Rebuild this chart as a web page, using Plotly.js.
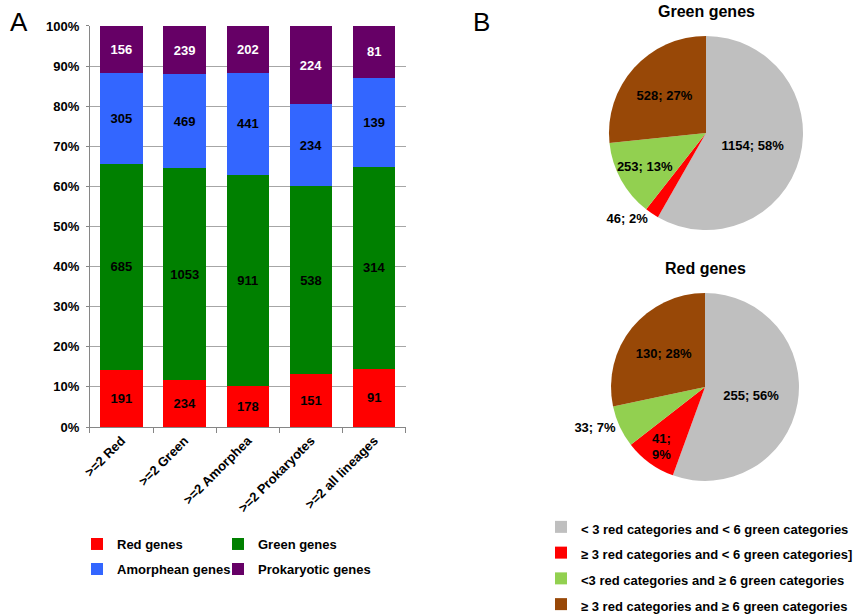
<!DOCTYPE html>
<html><head><meta charset="utf-8">
<script src="https://cdn.plot.ly/plotly-3.0.1.min.js"></script>
<style>html,body{margin:0;padding:0;background:#fff}#c{width:856px;height:616px}</style>
</head><body><div id="c"></div>
<script>
// Panel A data
const categories = ['>=2 Red', '>=2 Green', '>=2 Amorphea', '>=2 Prokaryotes', '>=2 all lineages'];
const redGenes = [191, 234, 178, 151, 91];
const greenGenes = [685, 1053, 911, 538, 314];
const amorpheanGenes = [305, 469, 441, 234, 139];
const prokaryoticGenes = [156, 239, 202, 224, 81];
const barSeriesNames = ['Red genes', 'Green genes', 'Amorphean genes', 'Prokaryotic genes'];

// Panel B data
const pieLabels = ['< 3 red categories and < 6 green categories',
  '\u2265 3 red categories and < 6 green categories]',
  '<3 red categories and \u2265 6 green categories',
  '\u2265 3 red categories and \u2265 6 green categories'];
const greenPieValues = [1154, 46, 253, 528];
const redPieValues = [255, 41, 33, 130];

const FONT = 'Liberation Sans, Arial, sans-serif';
const barColors = ['#FF0000', '#008000', '#3366FF', '#660066'];
const barText = ['#000', '#000', '#000', '#fff'];
const barLegends = ['legend', 'legend3', 'legend4', 'legend5'];
const pieColors = ['#BFBFBF', '#FF0000', '#92D050', '#984807'];

const barData = [redGenes, greenGenes, amorpheanGenes, prokaryoticGenes].map((vals, i) => ({
  type: 'bar', x: categories, y: vals, name: barSeriesNames[i],
  marker: {color: barColors[i], line: {width: 0}},
  text: vals.map(String), textposition: 'inside', insidetextanchor: 'middle', textangle: 0,
  textfont: {family: FONT, size: 13, weight: 'bold', color: barText[i]},
  constraintext: 'none', showlegend: true,
  legend: barLegends[i], hoverinfo: 'skip'
}));

const escapeLt = s => s.replace(/</g, '&lt;');
const styledPieLabels = pieLabels.map(l => '<span style="font-size:13px">' + escapeLt(l) + '</span>');

const tt = '%{value}; %{percent:.0%}';
const pieCommon = {
  type: 'pie', labels: styledPieLabels, sort: false, direction: 'clockwise', rotation: 0,
  marker: {colors: pieColors, line: {width: 0}},
  textinfo: 'text', insidetextorientation: 'horizontal',
  textfont: {family: FONT, size: 13, weight: 'bold', color: '#000'},
  outsidetextfont: {family: FONT, size: 13, weight: 'bold', color: '#000'},
  legend: 'legend2', hoverinfo: 'skip', automargin: false
};
const pie1 = Object.assign({}, pieCommon, {
  values: greenPieValues,
  texttemplate: [tt, tt, tt, tt],
  textposition: ['inside', 'outside', 'inside', 'inside'],
  domain: {x: [0.7114, 0.9381], y: [0.6266, 0.9416]}
});
const pie2 = Object.assign({}, pieCommon, {
  values: redPieValues,
  texttemplate: [tt, '%{value};<br>%{percent:.0%}', tt, tt],
  textposition: ['inside', 'inside', 'outside', 'inside'],
  domain: {x: [0.7138, 0.9334], y: [0.2192, 0.5244]}
});

const legFont = {family: FONT, size: 13, weight: 'bold'};
const barLeg = (x, y) => ({orientation: 'h', x: x / 856, y: y, xanchor: 'left', yanchor: 'top',
  font: legFont, itemclick: false, bgcolor: 'rgba(0,0,0,0)'});
const layout = {
  width: 856, height: 616, margin: {l: 0, r: 0, t: 0, b: 0, autoexpand: false},
  paper_bgcolor: '#fff', plot_bgcolor: '#fff', showlegend: true,
  barmode: 'stack', barnorm: 'percent', bargap: 0.33,
  uniformtext: {mode: 'show', minsize: 13},
  font: {family: FONT, size: 13, color: '#000'},
  xaxis: {domain: [0.105, 0.474], showgrid: false, showline: true, linecolor: '#868686',
    ticks: 'outside', ticklen: 5, tickcolor: '#868686', tickson: 'boundaries',
    tickangle: -45, tickfont: {family: FONT, size: 13, weight: 'bold'}, fixedrange: true,
    automargin: false},
  yaxis: {domain: [0.3068, 0.9578], range: [0, 100], dtick: 10, ticksuffix: '%',
    showgrid: true, gridcolor: '#A6A6A6', showline: true, linecolor: '#868686',
    ticks: 'outside', ticklen: 3, tickcolor: '#868686', ticklabelstandoff: 4,
    tickfont: {family: FONT, size: 13, weight: 'bold'}, zeroline: false, fixedrange: true,
    automargin: false},
  legend: barLeg(77, 0.1412),
  legend3: barLeg(218, 0.1412),
  legend4: barLeg(77, 0.1006),
  legend5: barLeg(218, 0.1006),
  legend2: {orientation: 'v', x: 541 / 856, y: 0.1737, xanchor: 'left', yanchor: 'top',
    font: {family: FONT, size: 17.5, weight: 'bold'}, itemclick: false, bgcolor: 'rgba(0,0,0,0)'},
  annotations: [
    {text: 'A', x: 19 / 856, y: 1 - 22 / 616, xref: 'paper', yref: 'paper', showarrow: false,
     xanchor: 'center', yanchor: 'middle', font: {family: FONT, size: 26, color: '#000'}},
    {text: 'B', x: 481 / 856, y: 1 - 22 / 616, xref: 'paper', yref: 'paper', showarrow: false,
     xanchor: 'center', yanchor: 'middle', font: {family: FONT, size: 26, color: '#000'}},
    {text: 'Green genes', x: 706 / 856, y: 1 - 12 / 616, xref: 'paper', yref: 'paper', showarrow: false,
     xanchor: 'center', yanchor: 'middle', font: {family: FONT, size: 16, weight: 'bold', color: '#000'}},
    {text: 'Red genes', x: 705 / 856, y: 1 - 268 / 616, xref: 'paper', yref: 'paper', showarrow: false,
     xanchor: 'center', yanchor: 'middle', font: {family: FONT, size: 16, weight: 'bold', color: '#000'}}
  ]
};

Plotly.newPlot('c', barData.concat([pie1, pie2]), layout, {displayModeBar: false, staticPlot: true});
</script></body></html>
